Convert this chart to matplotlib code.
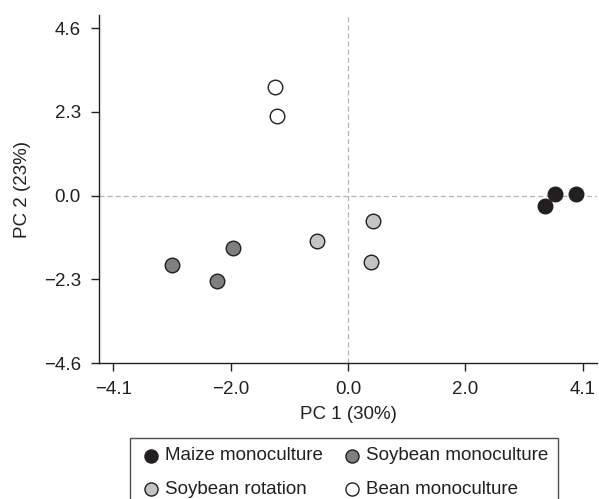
import matplotlib
matplotlib.use("Agg")
import matplotlib.pyplot as plt

plt.rcParams['font.family'] = ['Liberation Sans', 'DejaVu Sans']

groups = ["Maize monoculture", "Soybean monoculture", "Soybean rotation", "Bean monoculture"]
colors = ["#231f20", "#7f7f7f", "#c4c4c6", "#ffffff"]
maize_x = [3.62, 3.99, 3.44]
maize_y = [0.05, 0.05, -0.30]
soymono_x = [-3.08, -2.01, -2.28]
soymono_y = [-1.92, -1.45, -2.36]
soyrot_x = [-0.54, 0.43, 0.41]
soyrot_y = [-1.24, -0.71, -1.83]
bean_x = [-1.28, -1.24]
bean_y = [2.99, 2.18]
xs = [maize_x, soymono_x, soyrot_x, bean_x]
ys = [maize_y, soymono_y, soyrot_y, bean_y]

xticks = [-4.1, -2.05, 0.0, 2.05, 4.1]
xticklabels = ["\u22124.1", "\u22122.0", "0.0", "2.0", "4.1"]
yticks = [-4.6, -2.3, 0.0, 2.3, 4.6]
yticklabels = ["\u22124.6", "\u22122.3", "0.0", "2.3", "4.6"]

fig = plt.figure(figsize=(5.99, 4.99), dpi=100)
ax = fig.add_axes([99/599, 136/499, 498/599, 348/499])
ax.axhline(0, color="#b5b5b5", lw=0.9, ls=(0, (4, 2.5)), zorder=1)
ax.axvline(0, color="#b5b5b5", lw=0.9, ls=(0, (4, 2.5)), zorder=1)

handles = []
for g, c, x, y in zip(groups, colors, xs, ys):
    h = ax.scatter(x, y, s=110, facecolor=c, edgecolor="#231f20", linewidth=1.0, zorder=3, label=g)
    handles.append(h)

ax.set_xlim(-4.35, 4.35)
ax.set_ylim(-4.6, 4.96)
ax.set_xticks(xticks)
ax.set_xticklabels(xticklabels)
ax.set_yticks(yticks)
ax.set_yticklabels(yticklabels)
ax.spines["top"].set_visible(False)
ax.spines["right"].set_visible(False)
for s in ["left", "bottom"]:
    ax.spines[s].set_linewidth(1.0)
    ax.spines[s].set_color("#231f20")
ax.tick_params(direction="out", length=6, width=1.0, colors="#231f20", labelsize=13.5, pad=7)
ax.set_xlabel("PC 1 (30%)", fontsize=13.5, color="#231f20", labelpad=6)
ax.set_ylabel("PC 2 (23%)", fontsize=13.5, color="#231f20", labelpad=9)

# legend filled row-wise as in the reference
order = [0, 2, 1, 3]
leg = fig.legend([handles[i] for i in order], [groups[i] for i in order],
                 loc="upper center", bbox_to_anchor=(344/599, 1 - 438/499),
                 ncol=2, fontsize=13.5, frameon=True, fancybox=False, edgecolor="#231f20",
                 handletextpad=0.15, columnspacing=0.95, borderpad=0.5, labelspacing=0.85,
                 markerscale=0.9, handlelength=1.2, borderaxespad=0)
leg.get_frame().set_linewidth(1.0)
for t in leg.get_texts():
    t.set_color("#231f20")

fig.savefig("out.png", dpi=100)
